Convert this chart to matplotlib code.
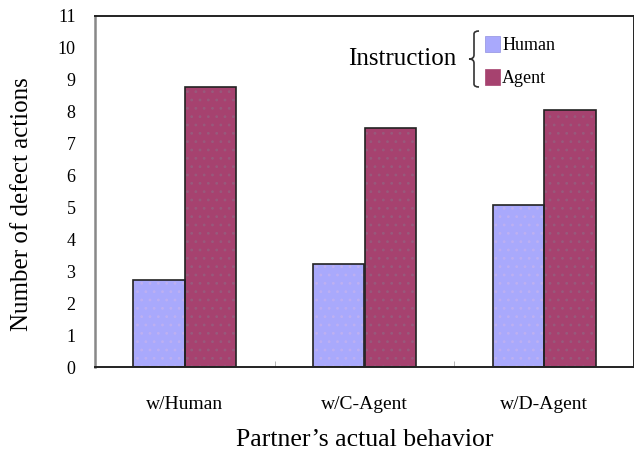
import matplotlib; matplotlib.use("Agg")
import matplotlib.pyplot as plt
import numpy as np
from matplotlib.path import Path
from matplotlib.patches import PathPatch, Patch

plt.rcParams['font.family'] = ['Liberation Serif', 'DejaVu Serif']
plt.rcParams['hatch.linewidth'] = 0.8

categories = ["w/Human", "w/C-Agent", "w/D-Agent"]
human = [2.74, 3.24, 5.07]
agent = [8.78, 7.48, 8.05]
series_names = ["Human", "Agent"]
yticks = list(range(0, 12))

HUMAN_C = "#a9a9fc"
AGENT_C = "#a6426f"
W = 0.286

W_PX, H_PX = 634, 455
fig = plt.figure(figsize=(W_PX/100, H_PX/100), dpi=100)
ax = fig.add_axes([95/W_PX, 1-367/H_PX, (634-95)/W_PX, (367-16)/H_PX])

x = np.arange(len(categories))
# fill + faint stipple, then black outline
ax.bar(x-W/2, human, W, color=HUMAN_C, hatch="..", edgecolor="#bdb0f2", linewidth=0)
ax.bar(x+W/2, agent, W, color=AGENT_C, hatch="..", edgecolor="#985a7c", linewidth=0)
ax.bar(x-W/2, human, W, fill=False, edgecolor="#222222", linewidth=1.2)
ax.bar(x+W/2, agent, W, fill=False, edgecolor="#222222", linewidth=1.2)

ax.set_xlim(-0.5, 2.5)
ax.set_ylim(0, 11)
ax.set_yticks(yticks)
ax.set_yticklabels([str(t) for t in yticks], fontsize=13)
ax.tick_params(axis="y", length=0, pad=14)
ax.set_xticks(x)
ax.set_xticklabels(categories, fontsize=14)
ax.tick_params(axis="x", length=0, pad=21)
ax.set_xticks([0.5, 1.5], minor=True)
ax.tick_params(axis="x", which="minor", direction="in", length=4, color="#aaaaaa")

for s in ["top", "bottom", "right"]:
    ax.spines[s].set_color("#222222")
    ax.spines[s].set_linewidth(1.4)
ax.spines["left"].set_color("#888888")
ax.spines["left"].set_linewidth(1.8)

ax.set_ylabel("Number of defect actions", fontsize=18)
ax.yaxis.set_label_coords(22/W_PX, 1-204/H_PX, transform=fig.transFigure)
ax.set_xlabel("Partner\u2019s actual behavior", fontsize=18.5)
ax.xaxis.set_label_coords(365/W_PX, 1-440/H_PX, transform=fig.transFigure)
ax.xaxis.label.set_va("center")
ax.yaxis.label.set_va("center")

# legend block: "Instruction" + brace + squares
def fpt(px, py):
    return (px/W_PX, 1-py/H_PX)

fig.text(*fpt(402, 59), "Instruction", fontsize=18, ha="center", va="center")
xs, xt, xe = 474, 469, 479
yt, ym, yb = 31, 59, 87
pts = [fpt(xe, yt), fpt(xs, yt), fpt(xs, yt+3),
       fpt(xs, ym-4), fpt(xs, ym), fpt(xt, ym),
       fpt(xs, ym), fpt(xs, ym+4),
       fpt(xs, yb-3), fpt(xs, yb), fpt(xe, yb)]
codes = [Path.MOVETO, Path.CURVE3, Path.CURVE3,
         Path.LINETO, Path.CURVE3, Path.CURVE3,
         Path.CURVE3, Path.CURVE3,
         Path.LINETO, Path.CURVE3, Path.CURVE3]
fig.patches.append(PathPatch(Path(pts, codes), transform=fig.transFigure,
                             fill=False, lw=1.2, ec="#333333"))

handles = [Patch(facecolor=HUMAN_C, edgecolor="#9090e0", lw=0.5),
           Patch(facecolor=AGENT_C, edgecolor=AGENT_C, lw=0.5)]
fig.legend(handles, series_names, loc="upper left", bbox_to_anchor=fpt(485, 36),
           frameon=False, fontsize=13, handlelength=0.85, handleheight=0.95,
           handletextpad=0.1, labelspacing=0.85, borderaxespad=0, borderpad=0)

fig.savefig("out.png", dpi=100)
